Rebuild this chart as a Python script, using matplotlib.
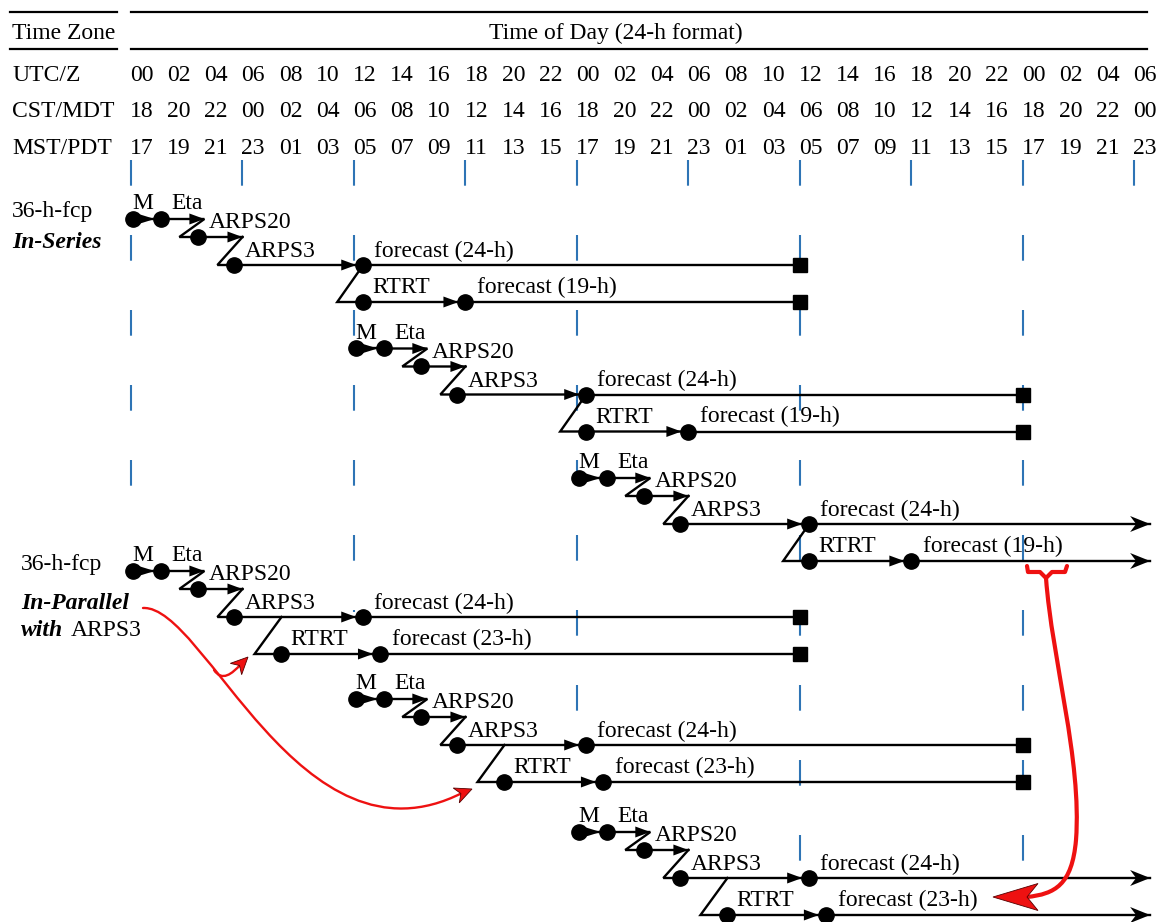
import numpy as np
import matplotlib
matplotlib.use("Agg")
import matplotlib.pyplot as plt
from matplotlib.path import Path
from matplotlib.patches import PathPatch

plt.rcParams['font.family'] = ['Liberation Serif', 'DejaVu Serif']
plt.rcParams['lines.scale_dashes'] = False

# ---- data -------------------------------------------------------------
tick_hours = list(range(0, 55, 2))
row_names = ["UTC/Z", "CST/MDT", "MST/PDT"]
utc_labels = ["00", "02", "04", "06", "08", "10", "12", "14", "16", "18", "20", "22",
              "00", "02", "04", "06", "08", "10", "12", "14", "16", "18", "20", "22",
              "00", "02", "04", "06"]
cst_labels = ["18", "20", "22", "00", "02", "04", "06", "08", "10", "12", "14", "16",
              "18", "20", "22", "00", "02", "04", "06", "08", "10", "12", "14", "16",
              "18", "20", "22", "00"]
mst_labels = ["17", "19", "21", "23", "01", "03", "05", "07", "09", "11", "13", "15",
              "17", "19", "21", "23", "01", "03", "05", "07", "09", "11", "13", "15",
              "17", "19", "21", "23"]

guide_hours = [0, 6, 12, 18, 24, 30, 36, 42, 48, 54]
cycle_starts = [0, 12, 24]          # UTC start of each 36-h forecast cycle

# stage times relative to the cycle start (hours)
m_t, eta_t, eta_end = 0.1, 1.6, 3.95
arps20_t, arps20_end = 3.6, 6.0
arps3_t = 5.55
fcst_t = 12.5
series_rtrt_t, series_rtrt_fcst_t = 12.5, 18.0
par_rtrt_t, par_rtrt_fcst_t = 8.1, 13.4
fcst_len = 36.0
last_hour = 54.85

stage_labels = ["M", "Eta", "ARPS20", "ARPS3"]
fcst_label = "forecast (24-h)"
series_rtrt_label = "forecast (19-h)"
par_rtrt_label = "forecast (23-h)"

# ---- layout -----------------------------------------------------------
W, H = 1159, 922
X0, PPH = 131, 18.58      # pixel of UTC 00, pixels per hour
FS = 17
BLUE = "#2e74b5"
RED = "#ee1111"


def hx(xpx):
    return (xpx - X0) / PPH


def dh(dpx):
    return dpx / PPH


fig = plt.figure(figsize=(W / 100, H / 100), dpi=100)
ax = fig.add_axes([0, 0, 1, 1])
ax.set_xlim(hx(0), hx(W))
ax.set_ylim(H, 0)
ax.axis('off')


def dot(x, y):
    ax.plot(x, y, 'o', ms=11, color='k', zorder=5)


def head(x, y, length=15, half=5.5):
    ax.fill([x, x - dh(length), x - dh(length)], [y, y - half, y + half],
            color='k', lw=0, zorder=4)


def stealth(x, y, length=20, half=8, notch=6):
    ax.fill([x, x - dh(length), x - dh(length - notch), x - dh(length)],
            [y, y - half, y, y + half], color='k', lw=0, zorder=4)


def line(xs, ys):
    ax.plot(xs, ys, color='k', lw=1.7, solid_joinstyle='miter', zorder=3)


def label(x, y, s, dx, dy, **kw):
    ax.annotate(s, (x, y), xytext=(dx, dy), textcoords='offset pixels',
                fontsize=FS, va='baseline', ha='left', **kw)


# ---- header -----------------------------------------------------------
for yy in [12, 49]:
    ax.plot([hx(10), hx(117)], [yy, yy], color='k', lw=1.6)
    ax.plot([hx(131), hx(1147)], [yy, yy], color='k', lw=1.6)
ax.text(hx(12), 39, "Time Zone", fontsize=FS, va='baseline')
ax.text(hx(616), 39, "Time of Day (24-h format)", fontsize=FS, va='baseline', ha='center')

row_y = [81, 117, 154]
for name, labs, yy in zip(row_names, [utc_labels, cst_labels, mst_labels], row_y):
    ax.text(hx(12), yy, name, fontsize=FS, va='baseline')
    for h, s in zip(tick_hours, labs):
        ax.text(h - dh(1), yy, s, fontsize=FS, va='baseline', ha='left')

# ---- guide lines ------------------------------------------------------
guide_end = {0: 486, 12: 612, 24: 740, 36: 872, 48: 890}
for h in guide_hours:
    ax.plot([h, h], [160, guide_end.get(h, 186)], color=BLUE, lw=1.5,
            dashes=(18.5, 35.5), zorder=1)


# ---- forecast cycles --------------------------------------------------
def cycle(t0, y0, parallel, last):
    y1, y2, y3 = y0 + 18, y0 + 46, y0 + 83
    end = last_hour if last else t0 + fcst_len
    # M -> Eta
    dot(t0 + m_t, y0)
    dot(t0 + eta_t, y0)
    line([t0 + m_t, t0 + eta_t - dh(6)], [y0, y0])
    ax.fill([t0 + eta_t - dh(6), t0 + m_t + dh(4), t0 + m_t + dh(4)],
            [y0, y0 - 5.5, y0 + 5.5], color='k', lw=0, zorder=4)
    # Eta -> ARPS20
    line([t0 + eta_t, t0 + eta_end, t0 + 2.6, t0 + arps20_end], [y0, y0, y1, y1])
    head(t0 + eta_end, y0)
    dot(t0 + arps20_t, y1)
    head(t0 + arps20_end, y1)
    # ARPS20 -> ARPS3 -> forecast
    line([t0 + arps20_end, t0 + 4.65, t0 + fcst_t], [y1, y2, y2])
    dot(t0 + arps3_t, y2)
    head(t0 + fcst_t - dh(7), y2)
    dot(t0 + fcst_t, y2)
    line([t0 + fcst_t, end], [y2, y2])
    # RTRT branch
    if parallel:
        r0, r1, lab = par_rtrt_t, par_rtrt_fcst_t, par_rtrt_label
        line([t0 + par_rtrt_t, t0 + 6.65, t0 + r1], [y2, y3, y3])
    else:
        r0, r1, lab = series_rtrt_t, series_rtrt_fcst_t, series_rtrt_label
        line([t0 + fcst_t, t0 + 11.1, t0 + r1], [y2, y3, y3])
    dot(t0 + r0, y3)
    head(t0 + r1 - dh(7), y3)
    dot(t0 + r1, y3)
    line([t0 + r1, end], [y3, y3])
    if last:
        stealth(end, y2)
        stealth(end, y3)
    else:
        ax.plot([end, end], [y2, y3], 's', ms=10.5, color='k', zorder=5)
    # labels
    label(t0 + m_t, y0, stage_labels[0], 0, 10)
    label(t0 + eta_t, y0, stage_labels[1], 11, 10)
    label(t0 + eta_end, y1, stage_labels[2], 4, 9)
    label(t0 + arps20_end, y2, stage_labels[3], 2, 8)
    label(t0 + fcst_t, y2, fcst_label, 11, 8)
    label(t0 + r0, y3, "RTRT", 9, 9)
    label(t0 + r1, y3, lab, 12, 9)


series_y0 = [219, 348.5, 478]
parallel_y0 = [571, 699, 832]
for i, t0 in enumerate(cycle_starts):
    cycle(t0, series_y0[i], False, i == 2)
    cycle(t0, parallel_y0[i], True, i == 2)

# ---- left captions ----------------------------------------------------
ax.text(hx(12), 217, "36-h-fcp", fontsize=FS, va='baseline')
ax.text(hx(12), 248, "In-Series", fontsize=FS, va='baseline', weight='bold', style='italic')
ax.text(hx(21), 570, "36-h-fcp", fontsize=FS, va='baseline')
ax.text(hx(21), 609, "In-Parallel", fontsize=FS, va='baseline', weight='bold', style='italic')
ax.text(hx(21), 636, "with", fontsize=FS, va='baseline', weight='bold', style='italic')
ax.text(hx(71), 636, "ARPS3", fontsize=FS, va='baseline')


# ---- red hand annotations ---------------------------------------------
def red_curve(pts, lw):
    verts = [(hx(x), y) for x, y in pts]
    codes = [Path.MOVETO] + [Path.CURVE4] * (len(pts) - 1)
    ax.add_patch(PathPatch(Path(verts, codes), fc='none', ec=RED, lw=lw,
                           capstyle='round', zorder=6))


def red_head(tip, frm, length, half, notch):
    tip = np.array(tip, float)
    d = tip - np.array(frm, float)
    d /= np.hypot(*d)
    n = np.array([-d[1], d[0]])
    base = tip - d * length
    pts = [tip, base + n * half, tip - d * (length - notch), base - n * half]
    ax.fill([hx(p[0]) for p in pts], [p[1] for p in pts], color=RED,
            ec='#550000', lw=0.6, zorder=7)


# long stroke from the caption to the second RTRT, with a short hook to the first
red_curve([(143, 608), (205, 605), (300, 875), (462, 793)], 1.7)
red_head((472, 789), (450, 798), 17, 8, 5)
red_curve([(214, 670), (222, 682), (232, 674), (241, 664)], 1.7)
red_head((248, 657), (234, 671), 17, 8, 5)

# brace under the 19-h forecast and the long arrow
brace = [(1027, 566), (1028, 572), (1040, 572), (1046, 578),
         (1052, 572), (1065, 572), (1067, 566)]
ax.plot([hx(x) for x, y in brace], [y for x, y in brace], color=RED, lw=3,
        solid_joinstyle='round', solid_capstyle='round', zorder=6)
red_curve([(1046, 578), (1052, 660), (1082, 760), (1076, 840),
           (1072, 885), (1055, 894), (1027, 897)], 3)
red_head((993, 897), (1030, 897), 45, 13.5, 11)

fig.savefig("out.png", dpi=100)
